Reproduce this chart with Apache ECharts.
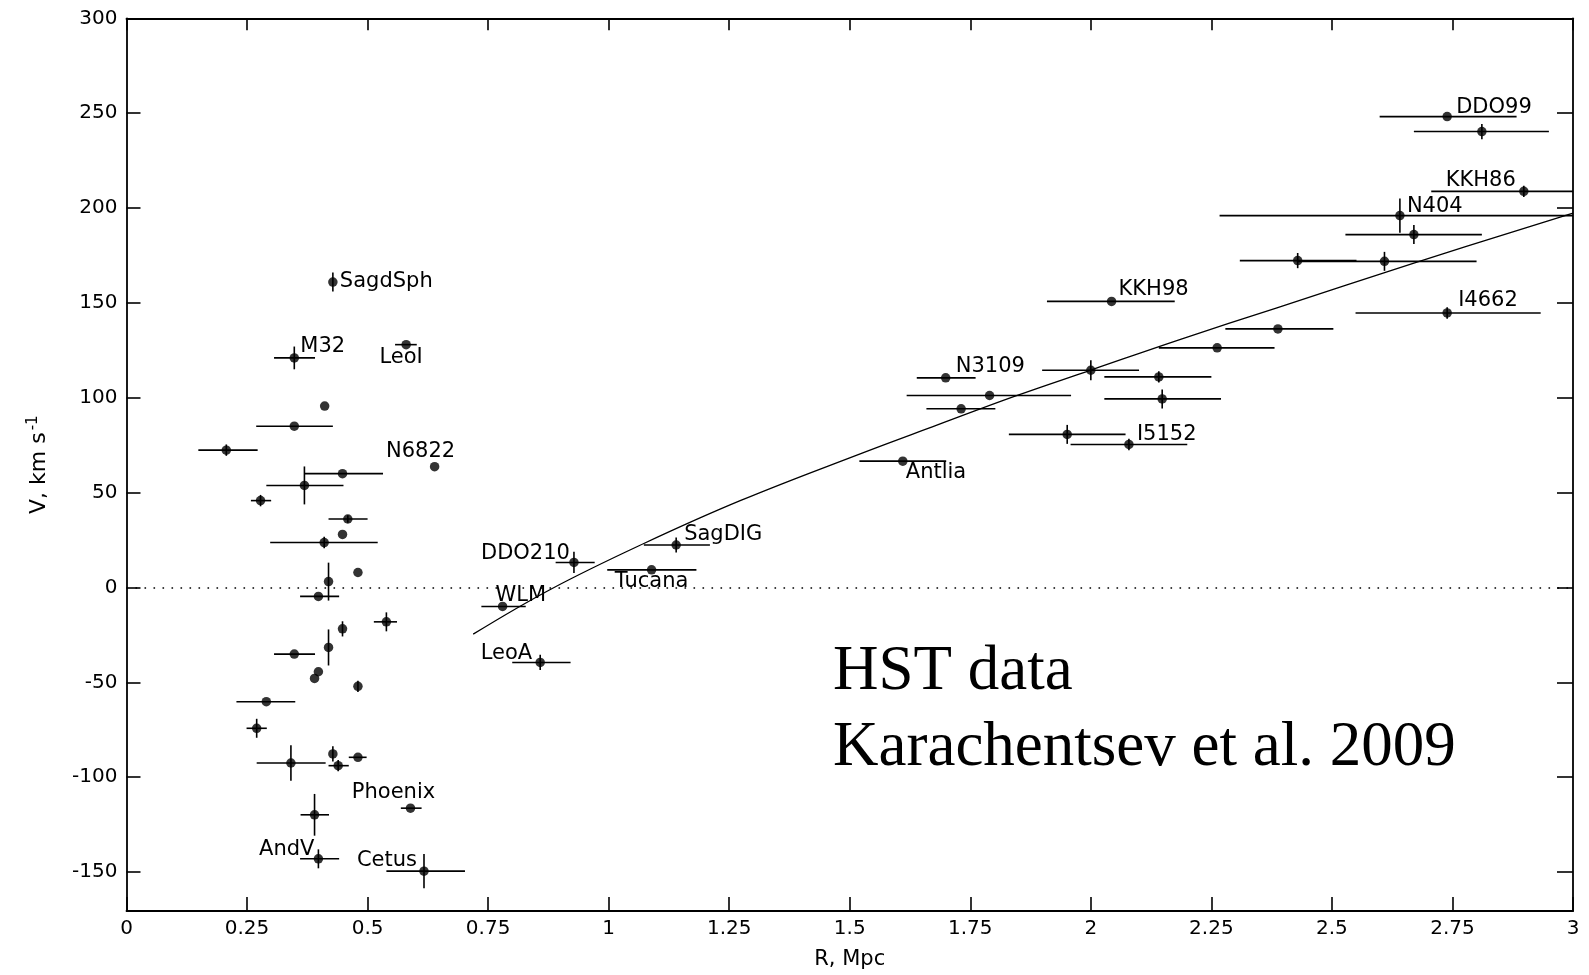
<!DOCTYPE html>
<html>
<head>
<meta charset="utf-8">
<title>Local Group velocity–distance diagram</title>
<script src="https://cdn.jsdelivr.net/npm/echarts@6/dist/echarts.min.js"></script>
<style>
  html, body { margin: 0; padding: 0; background: #fff; }
  #chart { width: 1589px; height: 975px; }
</style>
</head>
<body>
<div id="chart"></div>
<script>
// Galaxies: name (blank when unlabelled), distance R [Mpc], velocity V [km/s],
// distance error range (low / high) and symmetric velocity error.
const galaxyNames = [
  'SagdSph', 'M32', 'LeoI', '', '', '', 'N6822', '', '', '',
  '', '', '', '', '', '', '', '', '', '',
  '', '', '', '', '', '', '', '', '', 'Phoenix',
  '', 'AndV', 'Cetus', 'DDO210', 'WLM', 'LeoA', 'Tucana', 'SagDIG', 'Antlia', 'N3109',
  '', '', '', '', '', '', 'I5152', 'KKH98', '', '',
  '', '', '', 'N404', 'KKH86', 'DDO99', '', 'I4662'
];
const distanceMpc = [
  0.428, 0.348, 0.580, 0.411, 0.348, 0.207, 0.639, 0.448, 0.369, 0.278,
  0.459, 0.448, 0.410, 0.480, 0.419, 0.398, 0.539, 0.448, 0.348, 0.419,
  0.398, 0.390, 0.480, 0.290, 0.270, 0.341, 0.428, 0.439, 0.480, 0.589,
  0.390, 0.398, 0.617, 0.928, 0.780, 0.858, 1.089, 1.140, 1.610, 1.699,
  1.790, 1.731, 2.000, 2.141, 2.148, 1.951, 2.079, 2.043, 2.262, 2.388,
  2.429, 2.609, 2.670, 2.641, 2.898, 2.739, 2.811, 2.739
];
const velocityKms = [
  161, 121, 128, 95.6, 85, 72.4, 63.7, 60, 53.8, 45.8,
  36.1, 28, 23.7, 7.9, 3.1, -4.7, -18.1, -21.8, -35.1, -31.6,
  -44.4, -47.9, -52.1, -60.2, -74.2, -92.5, -87.7, -93.9, -89.5, -116.3,
  -119.8, -143, -149.5, 13.2, -10, -39.5, 9.3, 22.4, 66.6, 110.5,
  101.2, 94.2, 114.5, 111, 99.4, 80.7, 75.4, 150.8, 126.3, 136.3,
  172.3, 171.9, 186, 196, 208.8, 248.2, 240.3, 144.7
];
const distLow = [
  null, 0.306, 0.557, null, 0.269, 0.149, null, 0.369, 0.290, 0.258,
  0.419, null, 0.298, null, null, 0.360, 0.513, null, 0.306, null,
  null, null, null, 0.228, 0.249, 0.270, null, 0.419, 0.461, 0.569,
  0.361, 0.360, 0.539, 0.890, 0.736, 0.800, 0.997, 1.073, 1.520, 1.639,
  1.618, 1.659, 1.899, 2.028, 2.028, 1.830, 1.958, 1.909, 2.141, 2.279,
  2.309, 2.429, 2.528, 2.267, 2.706, 2.599, 2.670, 2.549
];
const distHigh = [
  null, 0.391, 0.602, null, 0.428, 0.272, null, 0.532, 0.450, 0.300,
  0.500, null, 0.521, null, null, 0.441, 0.561, null, 0.391, null,
  null, null, null, 0.350, 0.291, 0.413, null, 0.461, 0.498, 0.612,
  0.420, 0.441, 0.702, 0.971, 0.828, 0.921, 1.182, 1.210, 1.700, 1.761,
  1.959, 1.802, 2.100, 2.250, 2.270, 2.072, 2.200, 2.174, 2.381, 2.503,
  2.551, 2.800, 2.811, 3.050, 3.090, 2.883, 2.950, 2.933
];
const velErr = [
  5, 6, 0, 0, 0, 3, 0, 0, 10, 3,
  2, 0, 3, 0, 10, 0, 5, 4, 0, 9.5,
  0, 0, 3, 0, 5, 9.3, 4, 3, 0, 0,
  11, 5, 9, 5.6, 0, 4, 0, 4, 0, 0,
  0, 0, 5.3, 3, 5, 5, 3, 0, 0, 0,
  4, 5, 5, 9, 3, 0, 4, 3
];

// Model velocity–distance relation traced through the Local Group
const flowR = [0.719, 0.88, 1.073, 1.274, 1.523, 1.682, 1.84, 2.0, 2.186, 2.386, 2.67, 3.0];
const flowV = [-24.6, -0.9, 23.2, 45.9, 70.6, 85.7, 100.6, 114.6, 130.8, 147.4, 171.0, 197.3];

// Axis ticks
const rTicks = [0, 0.25, 0.5, 0.75, 1, 1.25, 1.5, 1.75, 2, 2.25, 2.5, 2.75, 3];
const vTicks = [-150, -100, -50, 0, 50, 100, 150, 200, 250, 300];

// Label placement beside each named galaxy: [dx, dy, text alignment]
const labelPlacement = {
  SagdSph: [7, 0, 'left'],
  M32: [6, -11, 'left'],
  LeoI: [-5, 13, 'center'],
  N6822: [-14, -15, 'center'],
  DDO210: [-4, -9, 'right'],
  WLM: [-7, -11, 'left'],
  LeoA: [-8, -9, 'right'],
  Tucana: [0, 12, 'center'],
  SagDIG: [8, -10, 'left'],
  N3109: [10, -11, 'left'],
  Antlia: [3, 11, 'left'],
  I5152: [8, -10, 'left'],
  KKH98: [7, -12, 'left'],
  DDO99: [9, -9, 'left'],
  KKH86: [-8, -11, 'right'],
  N404: [7, -9, 'left'],
  I4662: [11, -12, 'left'],
  Phoenix: [-17, -16, 'center'],
  AndV: [-4, -9, 'right'],
  Cetus: [-7, -11, 'right']
};

const INK = '#000';
const TICK_FONT = 'DejaVu Sans';

const galaxyRows = galaxyNames.map((name, i) => [
  distanceMpc[i], velocityKms[i],
  distLow[i] == null ? distanceMpc[i] : distLow[i],
  distHigh[i] == null ? distanceMpc[i] : distHigh[i],
  velErr[i], i
]);
const flowLine = flowR.map((r, i) => [r, flowV[i]]);

function clampToGrid(pt, cs) {
  return [
    Math.min(Math.max(pt[0], cs.x), cs.x + cs.width),
    Math.min(Math.max(pt[1], cs.y), cs.y + cs.height)
  ];
}

function renderErrorBars(params, api) {
  const cs = params.coordSys;
  const r = api.value(0), v = api.value(1);
  const lo = api.value(2), hi = api.value(3), e = api.value(4);
  const children = [];
  const style = { stroke: INK, lineWidth: 1.6 };
  if (hi > lo) {
    const a = clampToGrid(api.coord([lo, v]), cs);
    const b = clampToGrid(api.coord([hi, v]), cs);
    children.push({ type: 'line', shape: { x1: a[0], y1: a[1], x2: b[0], y2: b[1] }, style });
  }
  if (e > 0) {
    const a = api.coord([r, v - e]);
    const b = api.coord([r, v + e]);
    children.push({ type: 'line', shape: { x1: a[0], y1: a[1], x2: b[0], y2: b[1] }, style });
  }
  return { type: 'group', children };
}

function renderNames(params, api) {
  const name = galaxyNames[api.value(5)];
  if (!name) return null;
  const p = api.coord([api.value(0), api.value(1)]);
  const place = labelPlacement[name] || [6, -10, 'left'];
  return {
    type: 'text',
    x: p[0] + place[0],
    y: p[1] + place[1],
    style: {
      text: name,
      fill: INK,
      font: '21px "DejaVu Sans"',
      align: place[2],
      verticalAlign: 'middle'
    }
  };
}

const frameLine = { show: true, onZero: false, lineStyle: { color: INK, width: 1.8 } };
const frameTick = { show: true, inside: true, length: 14, lineStyle: { color: INK, width: 1.6 } };

const chart = echarts.init(document.getElementById('chart'), null, { renderer: 'canvas' });

chart.setOption({
  backgroundColor: '#fff',
  animation: false,
  grid: { left: 126.5, right: 16, top: 18.3, bottom: 62.7, containLabel: false },
  xAxis: [
    {
      type: 'value', min: 0, max: 3, position: 'bottom',
      name: 'R, Mpc', nameLocation: 'middle', nameGap: 38,
      nameTextStyle: { color: INK, fontFamily: TICK_FONT, fontSize: 21 },
      axisLine: frameLine,
      splitLine: { show: false },
      axisTick: { ...frameTick, customValues: rTicks },
      axisLabel: {
        show: true, customValues: rTicks, margin: 8,
        color: INK, fontFamily: TICK_FONT, fontSize: 20
      }
    },
    {
      type: 'value', min: 0, max: 3, position: 'top',
      axisLine: frameLine,
      splitLine: { show: false },
      axisTick: { ...frameTick, length: 12, customValues: rTicks },
      axisLabel: { show: false }
    }
  ],
  yAxis: [
    {
      type: 'value', min: -170.5, max: 300, position: 'left',
      name: '{b|V, km s}{sup|-1}', nameLocation: 'middle', nameGap: 76, nameRotate: 90,
      nameTextStyle: {
        color: INK,
        rich: {
          b: { fontFamily: TICK_FONT, fontSize: 22, color: INK, lineHeight: 28, verticalAlign: 'bottom' },
          sup: { fontFamily: TICK_FONT, fontSize: 15, color: INK, lineHeight: 28, verticalAlign: 'bottom', padding: [0, 0, 10, 2] }
        }
      },
      axisLine: frameLine,
      splitLine: { show: false },
      axisTick: { ...frameTick, customValues: vTicks },
      axisLabel: {
        show: true, customValues: vTicks, margin: 9,
        color: INK, fontFamily: TICK_FONT, fontSize: 20
      }
    },
    {
      type: 'value', min: -170.5, max: 300, position: 'right',
      axisLine: frameLine,
      splitLine: { show: false },
      axisTick: { ...frameTick, length: 16, customValues: vTicks },
      axisLabel: { show: false }
    }
  ],
  graphic: [
    {
      type: 'text', x: 833, y: 672,
      style: { text: 'HST data', fill: INK, font: '63px "Liberation Serif"', verticalAlign: 'middle', align: 'left' }
    },
    {
      type: 'text', x: 833, y: 748,
      style: { text: 'Karachentsev et al. 2009', fill: INK, font: '63px "Liberation Serif"', verticalAlign: 'middle', align: 'left' }
    }
  ],
  series: [
    {
      name: 'Hubble flow',
      type: 'line',
      data: flowLine,
      showSymbol: false,
      smooth: 0.4,
      lineStyle: { color: INK, width: 1.3 },
      silent: true,
      z: 2,
      markLine: {
        silent: true,
        symbol: ['none', 'none'],
        label: { show: false },
        lineStyle: { color: INK, width: 1.6, type: [1.6, 7.4] },
        data: [{ yAxis: 0 }]
      }
    },
    {
      name: 'error bars',
      type: 'custom',
      renderItem: renderErrorBars,
      data: galaxyRows,
      encode: { x: 0, y: 1 },
      silent: true,
      z: 3
    },
    {
      name: 'galaxies',
      type: 'scatter',
      data: galaxyRows,
      encode: { x: 0, y: 1 },
      symbol: 'circle',
      symbolSize: 9.5,
      itemStyle: { color: INK },
      z: 4
    },
    {
      name: 'names',
      type: 'custom',
      renderItem: renderNames,
      data: galaxyRows,
      encode: { x: 0, y: 1 },
      silent: true,
      z: 5
    }
  ]
});
</script>
</body>
</html>
